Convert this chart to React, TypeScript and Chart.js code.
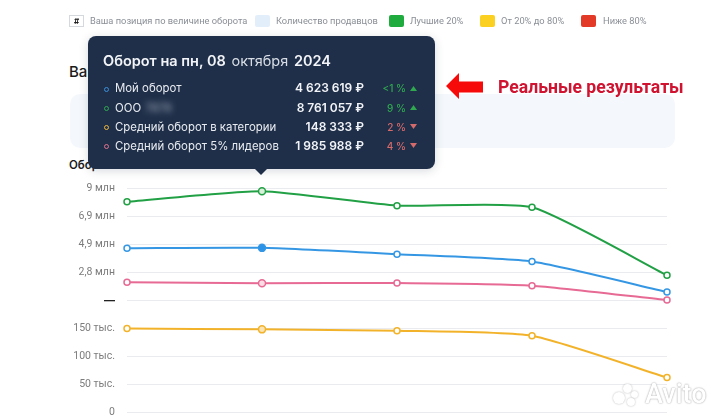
import { useEffect, useRef } from "react"
import { Chart, registerables } from "chart.js"

Chart.register(...registerables)

const dates = ["07.10", "08.10", "09.10", "10.10", "11.10"]
const myTurnover = [4600000, 4623619, 4150000, 3600000, 1320000]
const companyTurnover = [7980000, 8761057, 7680000, 7560000, 2575000]
const categoryAverage = [150000, 148333, 146000, 137000, 62500]
const leadersAverage = [2050000, 1985988, 2000000, 1800000, 720000]

// broken axis: every tick sits one step apart, whatever its value
const tickValues = [0, 50000, 100000, 150000, 700000, 2800000, 4900000, 6900000, 9000000]
const tickLabels = ["0", "50 тыс.", "100 тыс.", "150 тыс.", "—", "2,8 млн", "4,9 млн", "6,9 млн", "9 млн"]
const breakTick = 4

const legendItems = ["Количество продавцов", "Лучшие 20%", "От 20% до 80%", "Ниже 80%"]

const rowLabels = ["Мой оборот", "ООО", "Средний оборот в категории", "Средний оборот 5% лидеров"]
const rowValues = ["4 623 619 ₽", "8 761 057 ₽", "148 333 ₽", "1 985 988 ₽"]
const rowPercents = ["<1 %", "9 %", "2 %", "4 %"]
const rowUp = [true, true, false, false]

const hoverIndex = 1

function toAxis(value: number) {
  for (let i = 1; i < tickValues.length; i++) {
    if (value <= tickValues[i]) {
      return i - 1 + (value - tickValues[i - 1]) / (tickValues[i] - tickValues[i - 1])
    }
  }
  return tickValues.length - 1
}

function makeSeries(values: number[], color: string, hoverFill: string) {
  return {
    data: values.map(toAxis),
    borderColor: color,
    borderWidth: 2,
    tension: 0.18,
    pointBorderColor: color,
    pointBorderWidth: 1.5,
    pointRadius: values.map((_, i) => (i === hoverIndex ? 3.5 : 3)),
    pointBackgroundColor: values.map((_, i) => (i === hoverIndex ? hoverFill : "#ffffff")),
    clip: false as const,
  }
}

const font = "Inter, sans-serif"
const roboto = "Roboto, sans-serif"

function abs(left: number, top: number, extra: React.CSSProperties = {}): React.CSSProperties {
  return { position: "absolute", left, top, whiteSpace: "nowrap", ...extra }
}

const legendBoxes = [
  { x: 255, color: "#e3eefb", textX: 276 },
  { x: 389, color: "#20ab3e", textX: 410 },
  { x: 480, color: "#fbd021", textX: 501 },
  { x: 581, color: "#e23a26", textX: 603 },
]
const dotColors = ["#3b8fd8", "#2fa84f", "#efb43a", "#e0708c"]
const rowTops = [80, 99.5, 118.5, 137.5]
const watermarkDots = [
  { x: 613, y: 392, size: 12 },
  { x: 623, y: 384, size: 9 },
  { x: 631, y: 391, size: 7 },
  { x: 627, y: 398, size: 8 },
]

function LineChart() {
  const chartRef = useRef<HTMLCanvasElement>(null)

  useEffect(() => {
    if (!chartRef.current) return
    const chart = new Chart(chartRef.current, {
      type: "line",
      data: {
        labels: dates,
        datasets: [
          makeSeries(companyTurnover, "#22a045", "#d8efd9"),
          makeSeries(myTurnover, "#3597e4", "#2b93e8"),
          makeSeries(leadersAverage, "#e76a94", "#fbdde6"),
          makeSeries(categoryAverage, "#f2b32b", "#fae3b5"),
        ],
      },
      options: {
        responsive: false,
        animation: false,
        layout: { padding: { top: 188, right: 53, bottom: 7, left: 0 } },
        plugins: { legend: { display: false }, tooltip: { enabled: false } },
        scales: {
          x: { display: false, offset: false },
          y: {
            min: 0,
            max: tickValues.length - 1,
            afterFit: (scale) => {
              scale.width = 127
            },
            grid: { color: "#e9ebef", lineWidth: 1, drawTicks: false },
            border: { display: false },
            ticks: {
              stepSize: 1,
              padding: 12,
              color: (ctx) => (ctx.index === breakTick ? "#222222" : "#7c7c7c"),
              font: (ctx) =>
                ctx.index === breakTick
                  ? { family: font, size: 11, weight: "bold" }
                  : { family: roboto, size: 10.5 },
              callback: (value) => tickLabels[Number(value)],
            },
          },
        },
      },
    })
    return () => chart.destroy()
  }, [])

  // chart.js keeps about 19px under the plot here, so the canvas runs past the clipped page edge
  return <canvas ref={chartRef} width={720} height={431} style={{ display: "block" }} />
}

export default function App() {
  useEffect(() => {
    document.body.style.margin = "0"
  }, [])

  const legendText: React.CSSProperties = { fontFamily: roboto, fontSize: 9.3, color: "#8a8f96", lineHeight: "12px" }

  return (
    <div style={{ position: "relative", width: 720, height: 419, overflow: "hidden", background: "#fff", fontFamily: font }}>
      <div style={abs(70, 94, { width: 605, height: 54, background: "#f4f8fc", borderRadius: 10 })} />
      <div style={abs(69, 62, { fontSize: 15, fontWeight: 500, color: "#1a1a1a" })}>Ваша</div>
      <div style={abs(69, 158, { fontSize: 11.5, fontWeight: 600, color: "#1a1a1a" })}>Оборот</div>

      <div style={{ position: "absolute", left: 0, top: 0 }}>
        <LineChart />
      </div>

      <div style={abs(69, 15, { width: 13, height: 10, border: "1px solid #d5d8dc", textAlign: "center", fontSize: 8, fontWeight: 700, lineHeight: "10px", color: "#222" })}>#</div>
      <div style={abs(90, 14.5, legendText)}>Ваша позиция по величине оборота</div>
      {legendItems.map((item, i) => (
        <div key={item}>
          <div style={abs(legendBoxes[i].x, 14.5, { width: 15, height: 12.5, borderRadius: 2, background: legendBoxes[i].color })} />
          <div style={abs(legendBoxes[i].textX, 14.5, legendText)}>{item}</div>
        </div>
      ))}

      <div style={abs(88, 36, { width: 347, height: 133, background: "#1f2f49", borderRadius: 8, boxShadow: "0 2px 10px rgba(40,50,70,0.18)" })} />
      <svg style={abs(254, 168)} width={14} height={8}>
        <path d="M0 0 H14 L7 7 Z" fill="#1f2f49" />
      </svg>
      <div style={abs(103, 51, { fontSize: 14.5, fontWeight: 600, color: "#f2f4f7", lineHeight: "20px" })}>
        Оборот на пн, 08 <span style={{ fontWeight: 400, color: "#d8dde5", margin: "0 2px" }}>октября</span> 2024
      </div>
      {rowLabels.map((label, i) => (
        <div key={label}>
          <div style={abs(104, rowTops[i] + 6.5, { width: 3, height: 3, borderRadius: 3, border: `1px solid ${dotColors[i]}` })} />
          <div style={abs(115, rowTops[i], { fontSize: 11.4, lineHeight: "16px", color: "#e8ebf0" })}>
            {label}
            {i === 1 && <span style={{ marginLeft: 4, filter: "blur(3px)", color: "#aab2c0" }}>7878</span>}
          </div>
          <div style={abs(230, rowTops[i], { width: 134, textAlign: "right", fontSize: 12, fontWeight: 600, lineHeight: "16px", color: "#f2f4f7" })}>
            {rowValues[i]}
          </div>
          <div style={abs(366, rowTops[i], { width: 40, textAlign: "right", fontSize: 10, fontWeight: 500, lineHeight: "16px", color: rowUp[i] ? "#2fa84f" : "#d56a6a" })}>
            {rowPercents[i]}
          </div>
          <svg style={abs(409.5, rowTops[i] + 5.5)} width={7} height={5}>
            <path d={rowUp[i] ? "M0 5 H7 L3.5 0 Z" : "M0 0 H7 L3.5 5 Z"} fill={rowUp[i] ? "#2fa84f" : "#d56a6a"} />
          </svg>
        </div>
      ))}

      <svg style={abs(445, 72)} width={40} height={28}>
        <path d="M1 14 L14 1 V9.5 H38 V20.5 H14 V27 Z" fill="#f60a0a" />
      </svg>
      <div style={abs(498, 76, { fontFamily: roboto, fontSize: 17.6, fontWeight: 700, lineHeight: "22px", color: "#cf1330" })}>
        Реальные результаты
      </div>

      {watermarkDots.map((dot) => (
        <div key={dot.x} style={abs(dot.x, dot.y, { width: dot.size, height: dot.size, borderRadius: dot.size, background: "#fff", boxShadow: "0 0 2px #b5b5b5" })} />
      ))}
      <div style={abs(645, 378, { fontFamily: roboto, fontSize: 27, fontWeight: 500, lineHeight: "32px", color: "#ffffff", textShadow: "0 0 2px #b5b5b5, 0 0 1px #a8a8a8" })}>
        Avito
      </div>
    </div>
  )
}
